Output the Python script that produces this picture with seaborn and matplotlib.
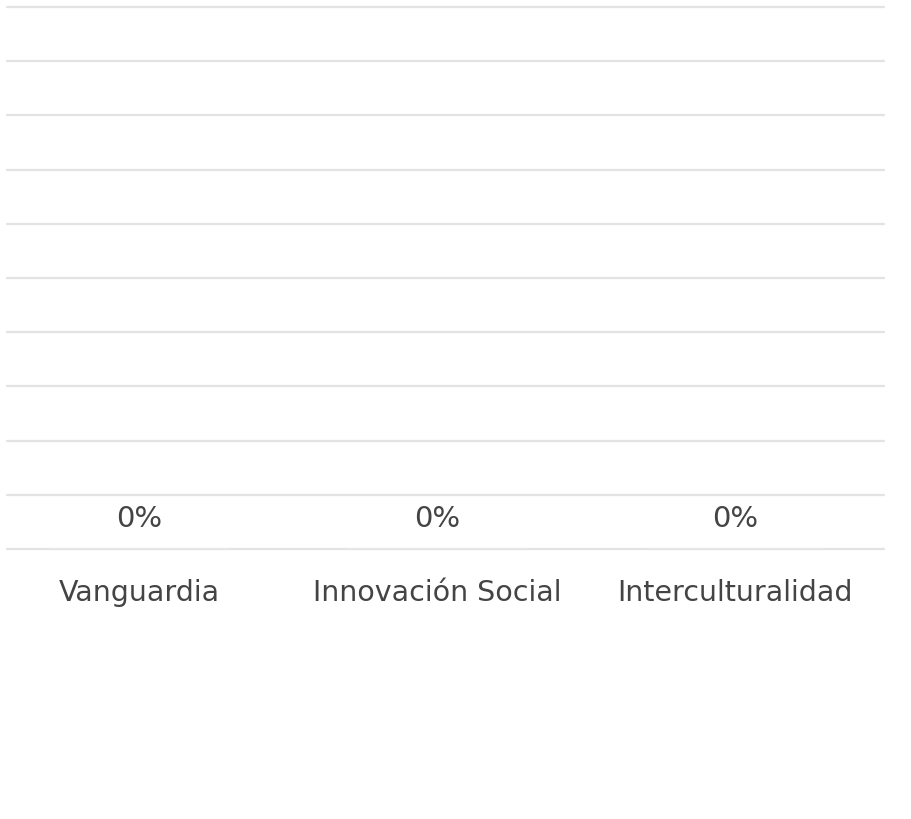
import pandas as pd
import seaborn as sns
import matplotlib.pyplot as plt

# Chart data
categories = ['Vanguardia', 'Innovación Social', 'Interculturalidad']
values = [0, 0, 0]
value_labels = ['0%', '0%', '0%']

df = pd.DataFrame({'Categoria': categories, 'Valor': values})

sns.set_style('white')
plt.rcParams['font.family'] = ['DejaVu Sans']

fig = plt.figure(figsize=(9.11, 8.19), dpi=100)
ax = fig.add_axes([7 / 911, 1 - 549 / 819, 877 / 911, 542 / 819])

sns.barplot(x='Categoria', y='Valor', data=df, color='#4a90d9', ax=ax, width=0.6)

ax.set_ylim(0, 10)
ax.set_xlim(-0.443, 2.5)
ax.set_yticks(range(0, 11))
ax.yaxis.grid(True, color='#e3e3e3', linewidth=1.6)
for gl in ax.get_ygridlines():
    gl.set_clip_on(False)
ax.set_axisbelow(True)
ax.tick_params(axis='y', left=False, labelleft=False)
ax.tick_params(axis='x', bottom=False, pad=18, labelsize=20.5, labelcolor='#444444')
ax.set_xlabel('')
ax.set_ylabel('')
for s in ax.spines.values():
    s.set_visible(False)

# value labels above the (empty) bars
for i, (v, lab) in enumerate(zip(values, value_labels)):
    ax.annotate(lab, xy=(i, v), xytext=(0, 21.5), textcoords='offset points',
                ha='center', va='center', fontsize=21, color='#444444')

fig.savefig('out.png', dpi=100)
